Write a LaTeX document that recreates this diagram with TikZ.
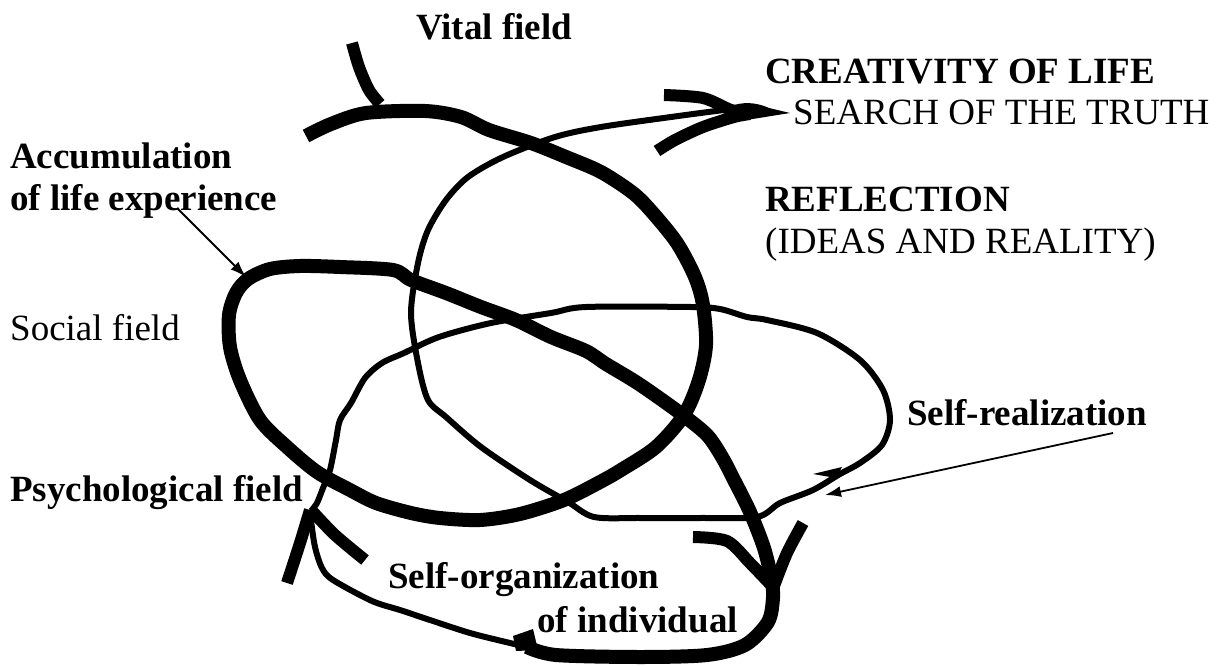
\documentclass[tikz,border=0pt]{standalone}
\usepackage{fontspec}
\setmainfont{Liberation Serif}
\usetikzlibrary{arrows.meta}
\tikzset{
  thickstroke/.style={line width=14pt, line join=round, line cap=butt},
  barbstroke/.style={line width=12pt, line join=round, line cap=butt},
  thinstroke/.style={line width=6pt, line join=round, line cap=butt},
  pointer/.style={line width=1.8pt, -{Latex[length=16pt,width=11pt]}},
  lbl/.style={anchor=base west, inner sep=0pt, font=\fontsize{37}{42}\selectfont},
  lblb/.style={anchor=base west, inner sep=0pt, font=\fontsize{37}{42}\selectfont\bfseries},
}
\begin{document}
\begin{tikzpicture}[x=1pt,y=-1pt]
\useasboundingbox (0,0) rectangle (1221,666);

% labels
\node[lblb] (vital) at (416,40) {Vital field};
\node[lblb] (creat) at (765,84) {CREATIVITY OF LIFE};
\node[lbl] (search) at (793,125) {SEARCH OF THE TRUTH};
\node[lblb] (accum1) at (10,168) {Accumulation};
\node[lblb] (accum2) at (10,210) {of life experience};
\node[lblb] (refl) at (765,211) {REFLECTION};
\node[lbl] (ideas) at (765,253) {(IDEAS AND REALITY)};
\node[lbl] (social) at (10,340) {Social field};
\node[lblb] (selfreal) at (907,425) {Self-realization};
\node[lblb] (psych) at (10,501) {Psychological field};
\node[lblb] (selforg1) at (388,588) {Self-organization};
\node[lblb, anchor=base east] (selforg2) at (738,632) {of individual};

% vital field stub
\draw[barbstroke] plot[smooth, tension=0.5] coordinates {(352,43) (359,67) (369,90) (380,104)};

% main thick path: vital -> big circle -> left loop -> diagonal
\draw[thickstroke] plot[smooth, tension=0.5] coordinates {
 (306,136) (331,124) (366,113) (425,111) (461,117) (489,130) (531,143) (566,157)
 (601,172) (633,193) (652,212) (677,243) (695,277) (703,305) (706,345) (699,380)
 (684,415) (656,447) (621,470) (600,482) (564,500) (520,514) (480,520) (440,518)
 (411,513) (376,503) (350,490) (317,472) (287,447) (260,420) (240,380) (230,347)
 (229,315) (236,293) (248,279) (270,269) (300,266) (340,267) (393,270) (411,280)
 (446,293) (481,307) (516,320) (551,337) (586,351) (606,364) (639,384) (680,413)
 (707,435) (722,457) (733,478) (750,512) (764,548) (772,580)};

% down arrowhead on the diagonal
\draw[barbstroke] plot[smooth, tension=0.5] coordinates {(693,537) (727,541) (750,563) (772,586)};
\draw[barbstroke] plot[smooth, tension=0.5] coordinates {(803,523) (787,553) (774,586)};

% bottom thick loop
\draw[thickstroke] plot[smooth, tension=0.5] coordinates {
 (772,580) (773,598) (768,622) (745,645) (707,655) (640,657) (556,655) (527,647)};
\fill (513,636) -- (533,629) -- (538,650) -- (516,651) -- cycle;

% thin path: self-organization -> self-realization loop -> vital circle -> creativity
\draw[thinstroke] plot[smooth, tension=0.5] coordinates {
 (527,647) (510,643) (470,633) (430,620) (400,610) (372,601) (333,580) (322,568)
 (315,547) (311,520) (311,511)};
\draw[thinstroke] plot[smooth, tension=0.5] coordinates {
 (311,511) (317,503) (323,488) (330,470) (336,440) (340,420) (351,403) (365,378)
 (382,363) (404,353) (439,337) (491,323) (551,313) (586,307) (691,307) (720,309)
 (747,317) (767,320) (817,333) (860,360) (883,390) (890,420) (882,445) (860,463)
 (840,474) (813,490) (780,503) (757,517) (700,518) (640,518) (594,517) (568,502)
 (530,480) (481,447) (446,417) (428,400) (418,363) (411,313) (418,263) (428,230)
 (446,200) (468,177) (503,157) (555,137) (601,127) (671,117) (724,110) (745,108)};

% psychological field arrowhead (pointing up)
\draw[barbstroke] plot[smooth, tension=0.5] coordinates {(310,510) (300,543) (287,583)};
\draw[barbstroke] plot[smooth, tension=0.5] coordinates {(313,512) (335,535) (365,560)};

% spike on the self-realization loop
\fill (813,474) -- (842,467) -- (836,478) -- cycle;

% creativity arrowhead
\draw[barbstroke] plot[smooth, tension=0.5] coordinates {(664,95) (703,98) (731,110) (745,112)};
\draw[barbstroke] plot[smooth, tension=0.5] coordinates {(657,151) (675,140) (703,127) (734,117) (750,114)};
\fill (734,105) .. controls (748,101) and (760,104) .. (769,108) -- (790,113) -- (734,122) -- cycle;

% pointers
\coordinate (accumStart) at (177,208);
\coordinate (accumTip) at (246,277);
\draw[pointer] (accumStart) -- (accumTip);
\coordinate (realStart) at (1113,433);
\coordinate (realTip) at (825,495);
\draw[pointer] (realStart) -- (realTip);
\end{tikzpicture}
\end{document}
